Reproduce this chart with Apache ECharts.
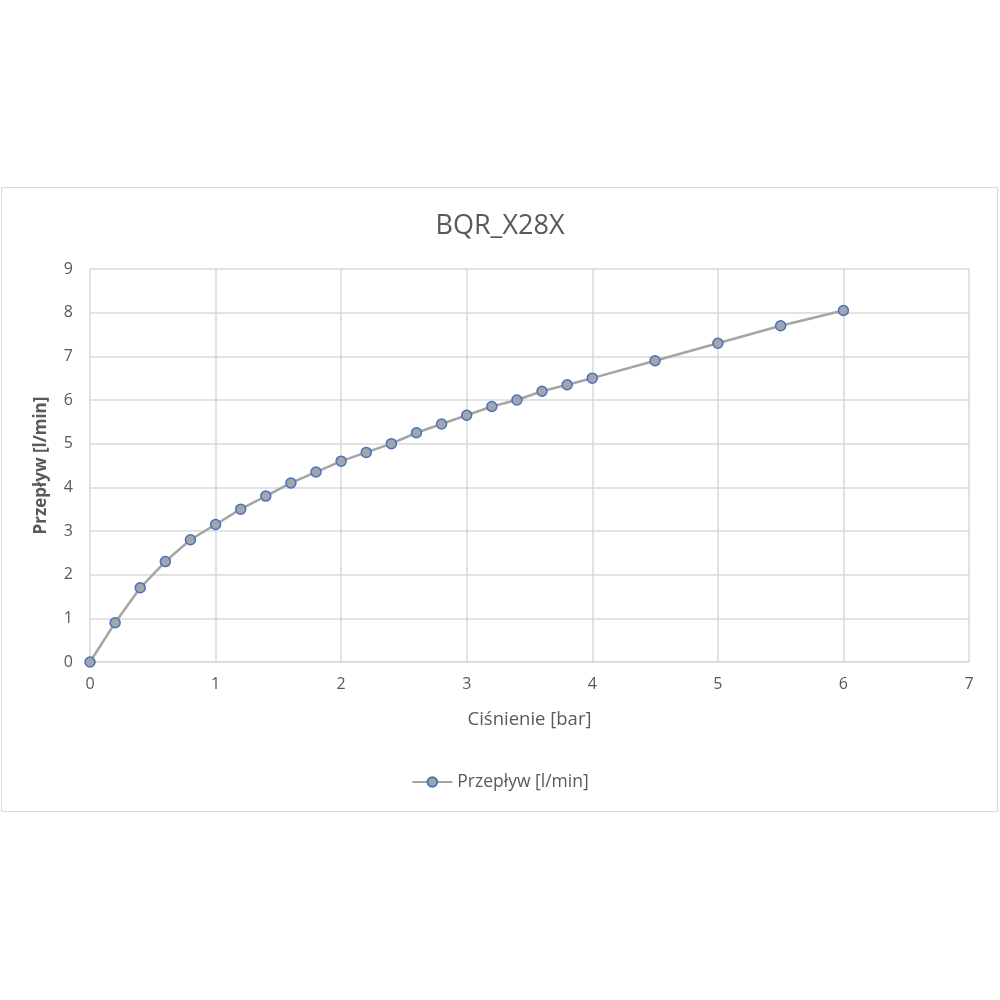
<!DOCTYPE html>
<html><head><meta charset="utf-8">
<script src="https://cdn.jsdelivr.net/npm/echarts@6/dist/echarts.min.js"></script>
<style>html,body{margin:0;padding:0;background:#fff}#c{width:1000px;height:1000px}</style>
</head><body><div id="c"></div>
<script>
const titleText = "BQR_X28X";
const seriesName = "Przepływ [l/min]";
const xAxisName = "Ciśnienie [bar]";
const yAxisName = "Przepływ [l/min]";
const pressure = [0,0.2,0.4,0.6,0.8,1.0,1.2,1.4,1.6,1.8,2.0,2.2,2.4,2.6,2.8,3.0,3.2,3.4,3.6,3.8,4.0,4.5,5.0,5.5,6.0];
const flow = [0,0.9,1.7,2.3,2.8,3.15,3.5,3.8,4.1,4.35,4.6,4.8,5.0,5.25,5.45,5.65,5.85,6.0,6.2,6.35,6.5,6.9,7.3,7.7,8.05];

const font = "'Open Sans', sans-serif";
const chart = echarts.init(document.getElementById('c'));
chart.setOption({
  animation: false,
  textStyle: {fontFamily: font},
  graphic: [{type:'rect', shape:{x:1.5,y:187.5,width:996,height:624}, style:{fill:'none', stroke:'#d9d9d9', lineWidth:1}, silent:true}],
  title: {text: titleText, left: 'center', top: 208, textStyle:{fontFamily:font, fontSize:27, fontWeight:'normal', color:'#595959'}},
  grid: {left: 90, right: 31, top: 269, bottom: 338},
  legend: {top: 768, left:'center', itemWidth: 40, itemHeight: 12, itemGap: 10, textStyle:{fontFamily:font, fontSize:17.5, color:'#595959'},
    data:[{name: seriesName}]},
  xAxis: {type:'value', min:0, max:7, interval:1, name: xAxisName, nameLocation:'middle', nameGap:48,
    nameTextStyle:{fontFamily:font, fontSize:18.5, color:'#595959'},
    axisLine:{show:true, lineStyle:{color:'#d9d9d9', width:1.5}}, axisTick:{show:false},
    axisLabel:{fontFamily:font, fontSize:16, color:'#595959', margin:14},
    splitLine:{show:true, lineStyle:{color:'#d9d9d9', width:1.5}}},
  yAxis: {type:'value', min:0, max:9, interval:1, name: yAxisName, nameLocation:'middle', nameGap:40,
    nameTextStyle:{fontFamily:font, fontSize:17, color:'#595959', fontWeight:'bold'},
    axisLine:{show:false}, axisTick:{show:false},
    axisLabel:{fontFamily:font, fontSize:16, color:'#595959', margin:17},
    splitLine:{show:true, lineStyle:{color:'#d9d9d9', width:1.5}}},
  series: [{name: seriesName, type:'line', data: pressure.map((p,i)=>[p, flow[i]]),
    symbol:'circle', symbolSize:10, showAllSymbol:true,
    lineStyle:{color:'#a5a5a5', width:2.5},
    itemStyle:{color:'#a5a5a5', borderColor:'#4472c4', borderWidth:1.5}}]
});
</script></body></html>
